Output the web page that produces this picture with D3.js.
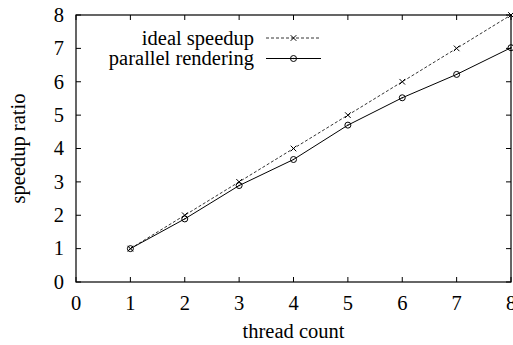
<!DOCTYPE html>
<head>
  <meta charset="utf-8">
  <script src="https://d3js.org/d3.v7.min.js"></script>
  <style>
    body { margin: 0; background: #fff; }
  </style>
</head>
<body>
  <svg width="513" height="345"></svg>
  <script>
  // data
  var threads = [1, 2, 3, 4, 5, 6, 7, 8];
  var ideal = [1, 2, 3, 4, 5, 6, 7, 8];
  var parallel = [1, 1.89, 2.89, 3.67, 4.7, 5.52, 6.22, 7.02];
  var xTicks = [0, 1, 2, 3, 4, 5, 6, 7, 8];
  var yTicks = [0, 1, 2, 3, 4, 5, 6, 7, 8];

  var svg = d3.select('svg');
  var margin = {top: 15, left: 76, right: 2, bottom: 63};
  var width = +svg.attr('width') - margin.left - margin.right;
  var height = +svg.attr('height') - margin.top - margin.bottom;

  var x = d3.scaleLinear().domain([0, 8]).range([0, width]);
  var y = d3.scaleLinear().domain([0, 8]).range([height, 0]);

  function label(sel) {
    return sel.append('text')
      .style('font-family', '"Liberation Serif", serif')
      .style('font-size', '20.5px')
      .attr('fill', '#000');
  }

  var g = svg.append('g')
    .attr('transform', 'translate(' + margin.left + ',' + margin.top + ')');

  // ticks, gnuplot style: inward and mirrored
  var tl = 5;
  xTicks.forEach(function(t) {
    g.append('line').attr('x1', x(t)).attr('x2', x(t)).attr('y1', height).attr('y2', height - tl).attr('stroke', '#000');
    g.append('line').attr('x1', x(t)).attr('x2', x(t)).attr('y1', 0).attr('y2', tl).attr('stroke', '#000');
    label(g).attr('x', x(t)).attr('y', height + 28).attr('text-anchor', 'middle').text(t);
  });
  yTicks.forEach(function(t) {
    g.append('line').attr('x1', 0).attr('x2', tl).attr('y1', y(t)).attr('y2', y(t)).attr('stroke', '#000');
    g.append('line').attr('x1', width).attr('x2', width - tl).attr('y1', y(t)).attr('y2', y(t)).attr('stroke', '#000');
    label(g).attr('x', -12).attr('y', y(t)).attr('dy', '0.33em').attr('text-anchor', 'end').text(t);
  });

  g.append('rect').attr('width', width).attr('height', height)
    .attr('fill', 'none').attr('stroke', '#000').attr('stroke-width', 1.2);

  var line = d3.line()
    .x(function(d, i) { return x(threads[i]); })
    .y(function(d) { return y(d); });

  g.append('path').datum(ideal).attr('d', line)
    .attr('fill', 'none').attr('stroke', '#000').attr('stroke-width', 0.8).attr('stroke-dasharray', '3,2');
  g.append('path').datum(parallel).attr('d', line)
    .attr('fill', 'none').attr('stroke', '#000').attr('stroke-width', 1);

  function cross(sel, cx, cy) {
    var s = 2.8;
    sel.append('path').attr('d', 'M' + (cx - s) + ',' + (cy - s) + 'L' + (cx + s) + ',' + (cy + s) +
      'M' + (cx - s) + ',' + (cy + s) + 'L' + (cx + s) + ',' + (cy - s))
      .attr('stroke', '#000').attr('stroke-width', 1);
  }
  function ring(sel, cx, cy) {
    sel.append('circle').attr('cx', cx).attr('cy', cy).attr('r', 3)
      .attr('fill', 'none').attr('stroke', '#000').attr('stroke-width', 1);
    sel.append('circle').attr('cx', cx).attr('cy', cy).attr('r', 0.7).attr('fill', '#000');
  }

  ideal.forEach(function(d, i) { cross(g, x(threads[i]), y(d)); });
  parallel.forEach(function(d, i) { ring(g, x(threads[i]), y(d)); });

  // legend
  var leg = svg.append('g');
  var rows = [
    {label: 'ideal speedup', y: 38, dash: '3,2', mark: cross},
    {label: 'parallel rendering', y: 58.5, dash: null, mark: ring}
  ];
  rows.forEach(function(r) {
    label(leg).attr('x', 254).attr('y', r.y).attr('dy', '0.33em').attr('text-anchor', 'end').text(r.label);
    var l = leg.append('line').attr('x1', 266).attr('x2', 321).attr('y1', r.y).attr('y2', r.y)
      .attr('stroke', '#000').attr('stroke-width', r.dash ? 0.8 : 1);
    if (r.dash) l.attr('stroke-dasharray', r.dash);
    r.mark(leg, 293.5, r.y);
  });

  // axis titles
  label(svg).attr('x', margin.left + x(4)).attr('y', 338).attr('text-anchor', 'middle').text('thread count');
  label(svg).attr('transform', 'translate(25,' + (margin.top + height / 2) + ') rotate(-90)')
    .attr('text-anchor', 'middle').text('speedup ratio');
  </script>
</body>
